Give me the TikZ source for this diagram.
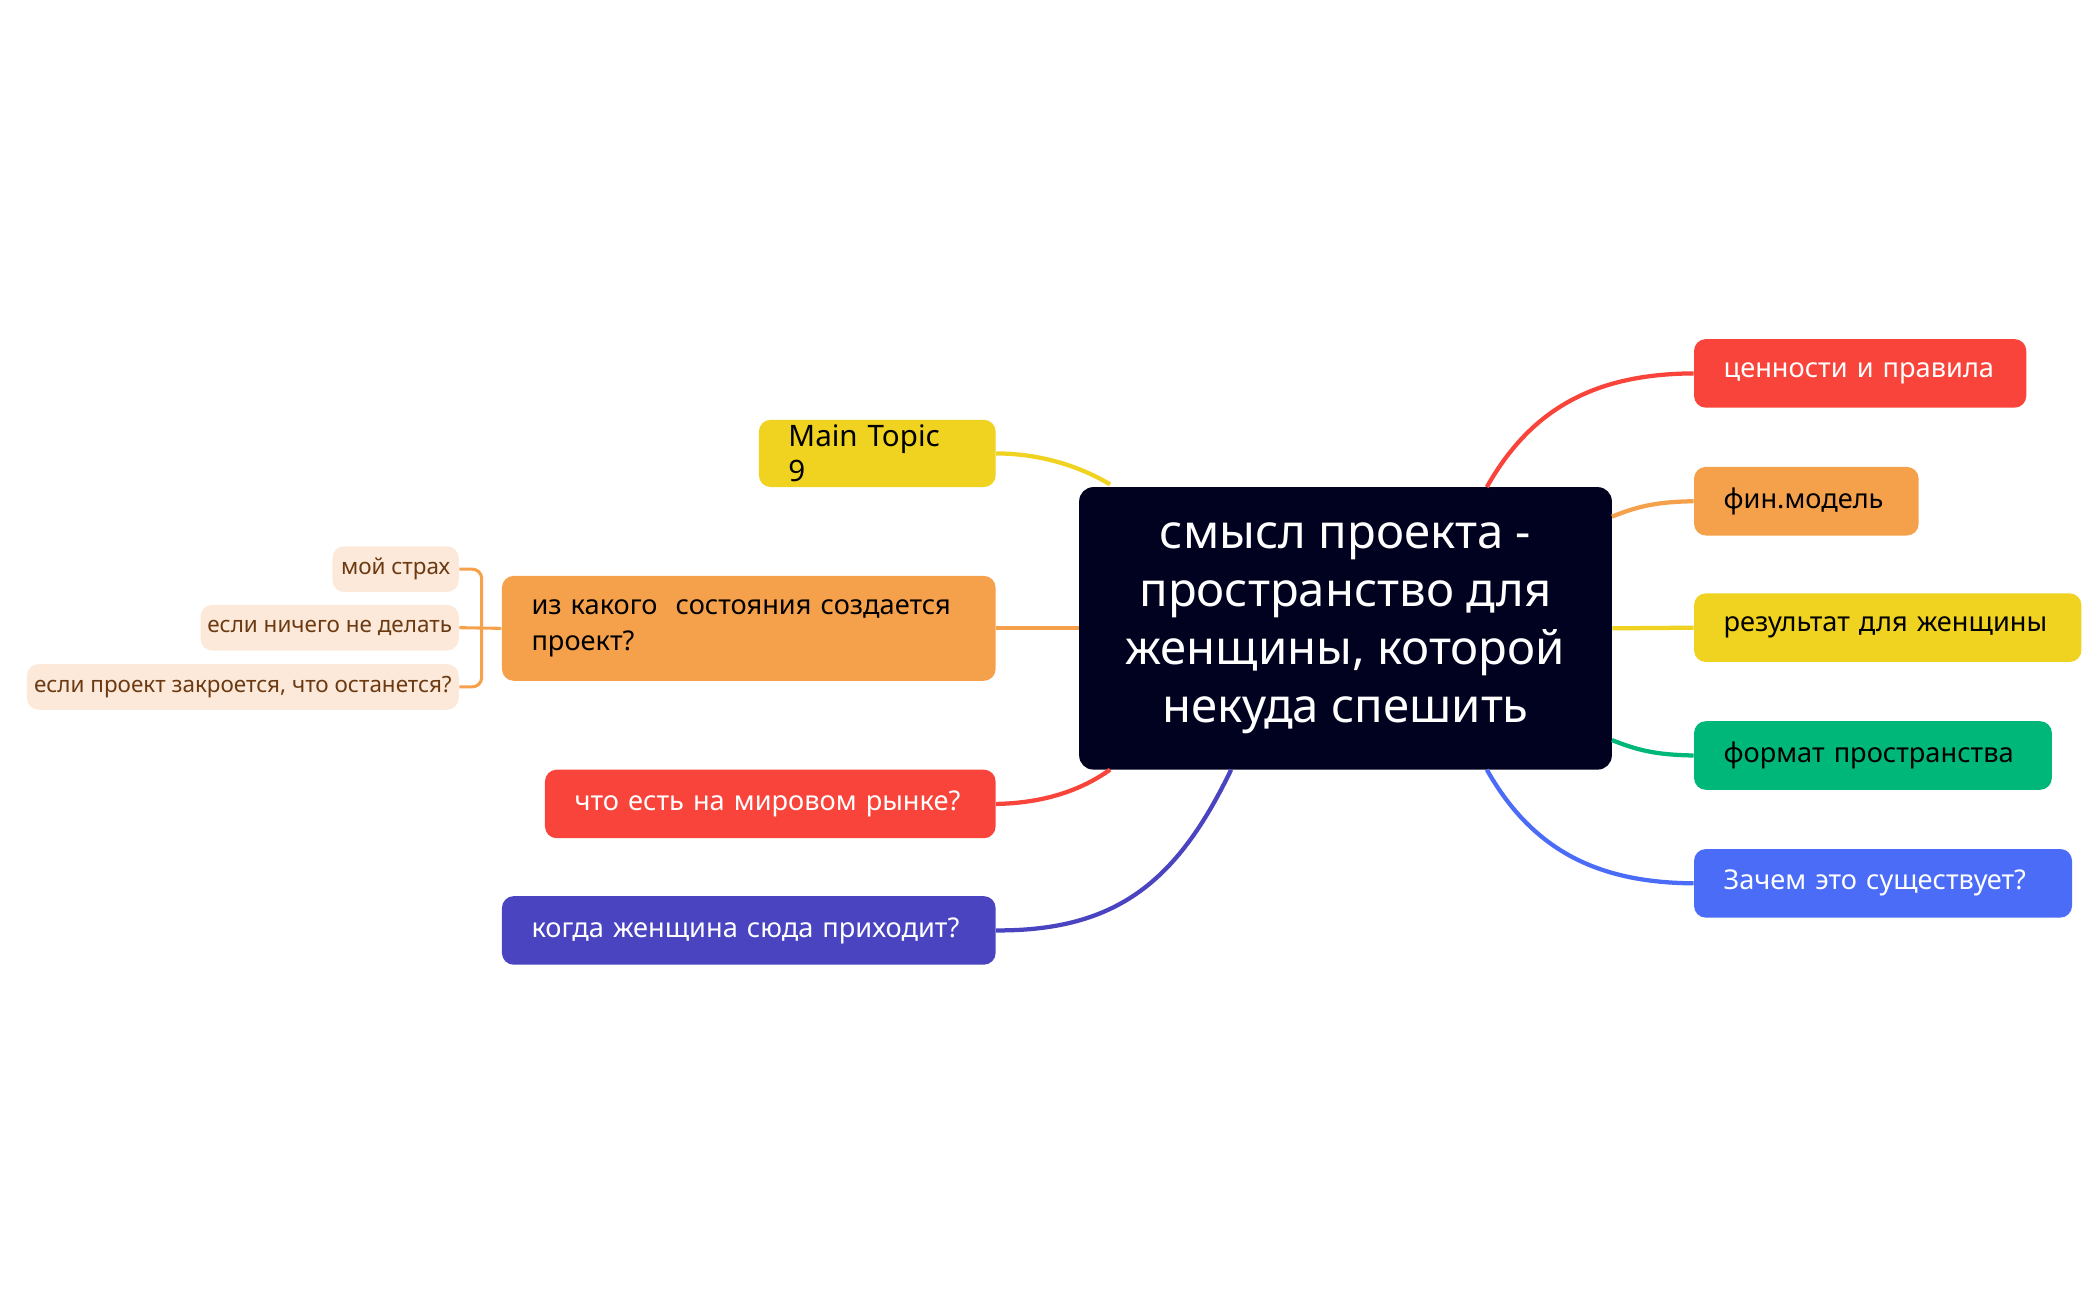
\documentclass[tikz,border=0pt]{standalone}
\usepackage{fontspec}
\setmainfont{Noto Sans}
\begin{document}
\begin{tikzpicture}[x=0.02cm,y=-0.02cm,
 box/.style={rounded corners=5pt,inner xsep=0.44cm,inner ysep=0pt,align=left,font=\fontsize{11.5}{15}\selectfont,minimum height=1.02cm},
 leaf/.style={rounded corners=5pt,fill=leafc,text=leaft,inner sep=0pt,font=\fontsize{9.5}{11}\selectfont,minimum height=0.68cm},
 ln/.style={line width=1.8pt}]
\definecolor{navy}{HTML}{010220}
\definecolor{cred}{HTML}{F8443A}
\definecolor{corg}{HTML}{F5A14B}
\definecolor{cyel}{HTML}{F0D321}
\definecolor{cgrn}{HTML}{00B77A}
\definecolor{cblu}{HTML}{4A6CF7}
\definecolor{cpur}{HTML}{4A44C0}
\definecolor{leafc}{HTML}{FDE9D9}
\definecolor{leaft}{HTML}{6B3A12}
\useasboundingbox (0,0) rectangle (1560,966);
\node[rounded corners=6pt,fill=navy,text=white,minimum width=7.92cm,minimum height=4.2cm,align=center,font=\fontsize{20}{24.5}\selectfont] (c) at (1000,467) {смысл проекта -\\пространство для\\женщины, которой\\ некуда спешить};
\node[box,fill=cred,text=white,minimum width=4.94cm,text width=4.06cm] (r1) at (1382.5,277.5) {ценности и правила};
\node[box,fill=corg,text=black,minimum width=3.34cm,text width=2.46cm] (r2) at (1342.5,372.5) {фин.модель};
\node[box,fill=cyel,text=black,minimum width=5.76cm,text width=4.88cm] (r3) at (1403,466.5) {результат для женщины};
\node[box,fill=cgrn,text=black,minimum width=5.32cm,text width=4.44cm] (r4) at (1392,561.5) {формат пространства};
\node[box,fill=cblu,text=white,minimum width=5.62cm,text width=4.74cm] (r5) at (1399.5,656.5) {Зачем это существует?};
\node[box,fill=cyel,text=black,minimum width=3.52cm,text width=2.64cm,minimum height=1.0cm,font=\fontsize{12.5}{15}\selectfont] (l1) at (652,337) {Main Topic 9};
\node[box,fill=corg,text=black,minimum width=7.34cm,text width=6.46cm,minimum height=1.56cm] (l2) at (556.5,467) {из какого \ состояния создается проект?};
\node[box,fill=cred,text=white,minimum width=6.7cm,text width=5.82cm] (l3) at (572.5,597.5) {что есть на мировом рынке?};
\node[box,fill=cpur,text=white,minimum width=7.34cm,text width=6.46cm] (l4) at (556.5,691.5) {когда женщина сюда приходит?};
\node[leaf,minimum width=1.88cm] (s1) at (294,423) {мой страх};
\node[leaf,minimum width=3.84cm] (s2) at (245,466.5) {если ничего не делать};
\node[leaf,minimum width=6.42cm] (s3) at (180.5,510.5) {если проект закроется, что останется?};
\coordinate (a1) at (1105,362);
\coordinate (a2) at (1198,384);
\coordinate (a4) at (1198,550);
\coordinate (a5) at (1105,572);
\coordinate (b1) at (825,360);
\coordinate (b3) at (825,572);
\coordinate (b4) at (915,572);
\coordinate (k) at (358,467);
\begin{scope}[ln]
\draw[cred] (a1) .. controls (1140,300) and (1190,278) .. (r1.west);
\draw[corg] (a2) .. controls (1220,375) and (1235,373) .. (r2.west);
\draw[cyel] (c.east) -- (r3.west);
\draw[cgrn] (a4) .. controls (1220,559) and (1235,561) .. (r4.west);
\draw[cblu] (a5) .. controls (1140,634) and (1190,656) .. (r5.west);
\draw[cyel] (b1) .. controls (800,345) and (770,337) .. (l1.east);
\draw[corg] (c.west) -- (l2.west -| l2.east);
\draw[cred] (b3) .. controls (800,590) and (770,597) .. (l3.east);
\draw[cpur] (b4) .. controls (875,655) and (830,692) .. (l4.east);
\end{scope}
\begin{scope}[corg,line width=1.3pt]
\draw[rounded corners=4pt] (s1.east) -- (k |- s1.east) -- (k |- s3.east) -- (s3.east);
\draw (s2.east) -- (l2.west);
\end{scope}
\end{tikzpicture}
\end{document}
